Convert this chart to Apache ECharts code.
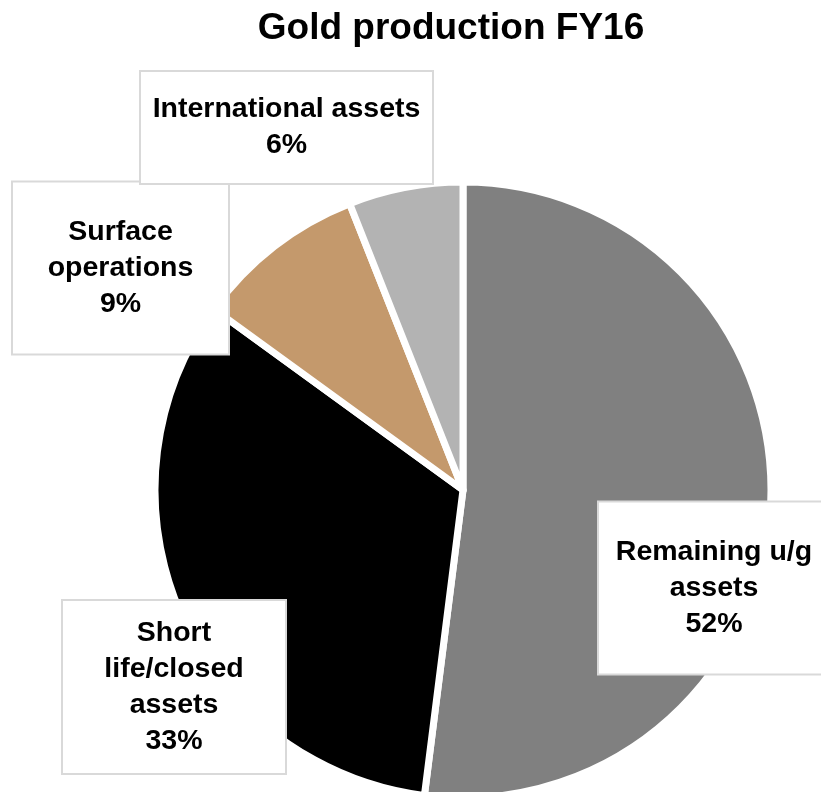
<!DOCTYPE html>
<html>
<head>
<meta charset="utf-8">
<script src="https://cdn.jsdelivr.net/npm/echarts@6/dist/echarts.min.js"></script>
<style>
  html, body { margin: 0; padding: 0; background: #fff; }
  #chart { width: 821px; height: 792px; }
</style>
</head>
<body>
<div id="chart"></div>
<script>
// Share of gold production by asset group, FY16
const categories = [
  'Remaining u/g\nassets',
  'Short\nlife/closed\nassets',
  'Surface\noperations',
  'International assets'
];
const shares = [52, 33, 9, 6];
const sliceColors = ['#808080', '#000000', '#C4996C', '#B3B3B3'];

// Callout boxes: centre point, content width and vertical padding
const boxCentres = [[714, 588], [174, 687], [120.5, 268], [286.5, 127.5]];
const boxWidths = [230, 222, 215, 291];
const boxPadV = [31.5, 14, 31.5, 19.5];

const chart = echarts.init(document.getElementById('chart'), null, { renderer: 'canvas' });

const data = categories.map((name, i) => ({
  name: name,
  value: shares[i],
  itemStyle: { color: sliceColors[i] },
  label: {
    width: boxWidths[i],
    padding: [boxPadV[i], 0, boxPadV[i], 0]
  }
}));

chart.setOption({
  animation: false,
  backgroundColor: '#ffffff',
  title: {
    text: 'Gold production FY16',
    left: 451,
    textAlign: 'center',
    top: 10,
    padding: 0,
    textStyle: {
      fontFamily: '"Liberation Sans", Arial, sans-serif',
      fontWeight: 'bold',
      fontSize: 37,
      color: '#000000'
    }
  },
  series: [{
    type: 'pie',
    center: [463, 490],
    radius: 308,
    startAngle: 90,
    clockwise: true,
    avoidLabelOverlap: false,
    itemStyle: { borderColor: '#ffffff', borderWidth: 7 },
    labelLine: { show: false },
    label: {
      show: true,
      position: 'outside',
      formatter: (p) => p.name + '\n' + p.value + '%',
      fontFamily: '"Liberation Sans", Arial, sans-serif',
      fontWeight: 'bold',
      fontSize: 28.5,
      lineHeight: 36,
      color: '#000000',
      align: 'center',
      backgroundColor: '#ffffff',
      borderColor: '#D9D9D9',
      borderWidth: 2
    },
    labelLayout: (params) => ({
      x: boxCentres[params.dataIndex][0],
      y: boxCentres[params.dataIndex][1],
      align: 'center',
      verticalAlign: 'middle'
    }),
    data: data
  }]
});
</script>
</body>
</html>
